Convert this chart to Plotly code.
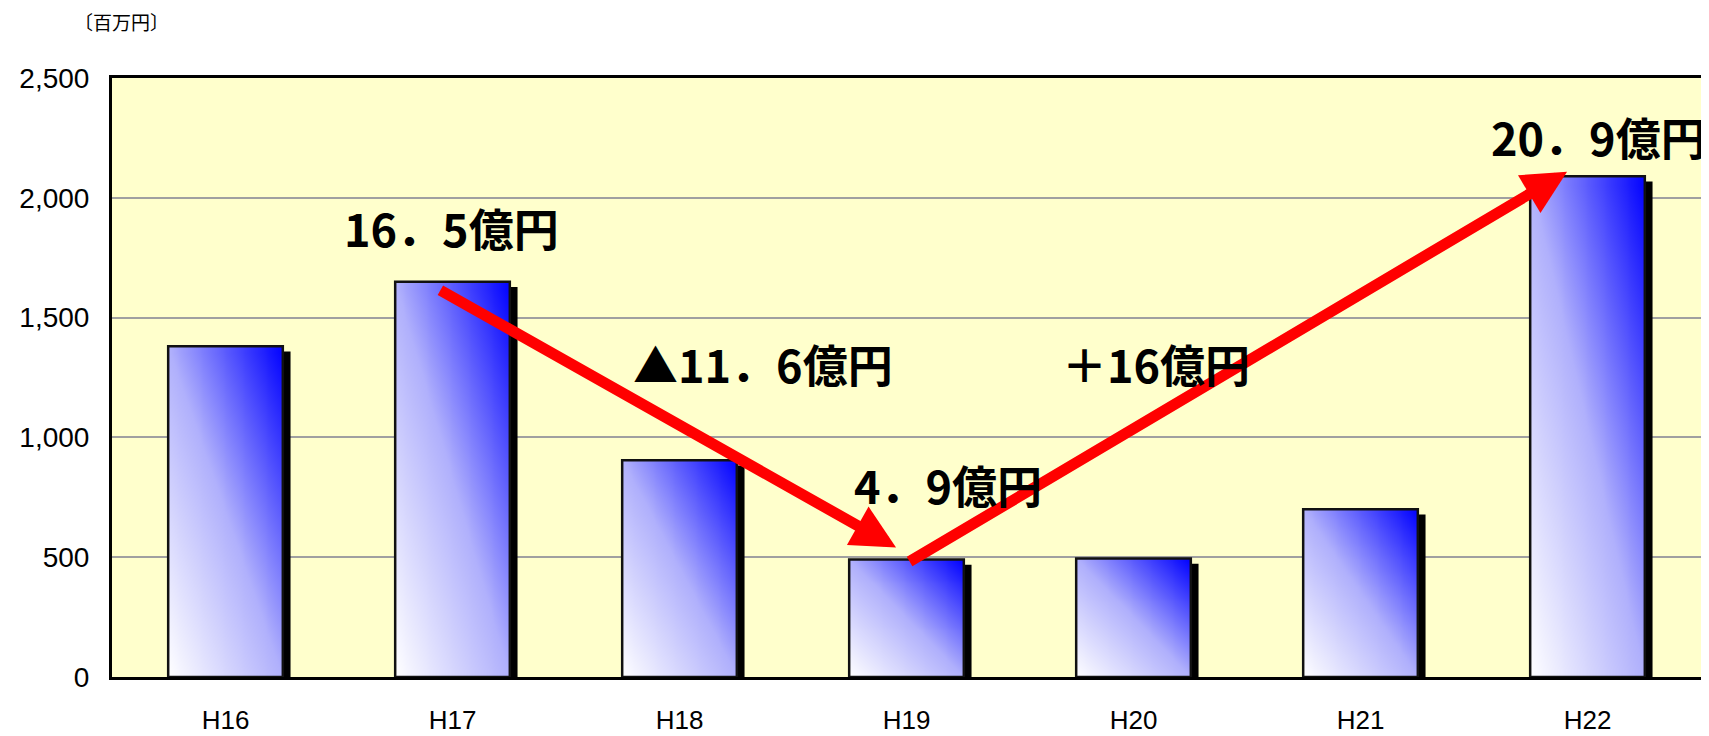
import numpy as np
import plotly.graph_objects as go

# ---- data ----
categories = ["H16", "H17", "H18", "H19", "H20", "H21", "H22"]
values = [1380, 1650, 905, 490, 495, 700, 2090]  # 百万円
y_ticks = [0, 500, 1000, 1500, 2000, 2500]
unit_label = "〔百万円〕"

callout_texts = ["16．5億円", "▲11．6億円", "4．9億円", "＋16億円", "20．9億円"]
callout_x = [0.996, 2.368, 3.182, 4.098, 6.047]
callout_y = [1876, 1310, 803, 1310, 2255]

arrow_tail_x = [0.94, 3.007]
arrow_tail_y = [1618, 478]
arrow_head_x = [2.954, 5.91]
arrow_head_y = [541, 2109]

# ---- style ----
BAR_W = 0.505
SHADOW_W = 0.034
SHADOW_DROP = 22
GRAD_SCALE = [[0, "#ffffff"], [0.5, "#b0b0fc"], [1, "#0000ff"]]
CJK = "Noto Sans CJK JP"

fig = go.Figure()
x_idx = list(range(len(categories)))

# gradient fill of each bar (diagonal: white bottom-left -> blue top-right)
nx, ny = 30, 30
for i, v in zip(x_idx, values):
    xe = np.linspace(i - BAR_W / 2, i + BAR_W / 2, nx + 1)
    ye = np.linspace(0, v, ny + 1)
    u = (np.arange(nx) + 0.5) / nx
    w = (np.arange(ny) + 0.5) / ny
    z = (u[None, :] + w[:, None]) / 2
    fig.add_trace(go.Heatmap(x=xe, y=ye, z=z, zmin=0, zmax=1, colorscale=GRAD_SCALE,
                             showscale=False, zsmooth="best", hoverinfo="skip"))

# drop shadow strip
fig.add_trace(go.Bar(x=x_idx, y=[v - SHADOW_DROP for v in values], width=SHADOW_W,
                     offset=BAR_W / 2, marker=dict(color="black", line=dict(width=0)),
                     hoverinfo="skip"))
# bar outline
fig.add_trace(go.Bar(x=x_idx, y=values, width=BAR_W,
                     marker=dict(color="rgba(0,0,0,0)", line=dict(color="#111111", width=2.5)),
                     hovertemplate="%{y}<extra></extra>"))

# arrows
for tx, ty, hx, hy in zip(arrow_tail_x, arrow_tail_y, arrow_head_x, arrow_head_y):
    fig.add_annotation(x=hx, y=hy, ax=tx, ay=ty, xref="x", yref="y", axref="x", ayref="y",
                       showarrow=True, arrowhead=2, arrowsize=0.8, arrowwidth=11,
                       arrowcolor="#ff0000", text="")

# callout texts
for t, cx, cy in zip(callout_texts, callout_x, callout_y):
    fig.add_annotation(x=cx, y=cy, xref="x", yref="y", text=t, showarrow=False,
                       xanchor="center", yanchor="middle",
                       font=dict(family=CJK, size=45, color="black", weight=700))

# unit label
fig.add_annotation(x=0.0057, y=1.0935, xref="paper", yref="paper", text=unit_label,
                   showarrow=False, xanchor="center", yanchor="middle",
                   font=dict(family=CJK, size=19, color="black"))

fig.update_layout(
    width=1709, height=736,
    margin=dict(l=104, r=16, t=70, b=67),
    paper_bgcolor="white", plot_bgcolor="#ffffcc",
    barmode="overlay", showlegend=False,
    font=dict(family="Liberation Sans", color="black"),
)
fig.update_xaxes(range=[-0.5, 6.5], tickvals=x_idx, ticktext=categories,
                 showgrid=False, zeroline=False, showline=True, linecolor="black",
                 linewidth=3, mirror=True, ticks="", ticklabelstandoff=18, automargin=False,
                 tickfont=dict(size=26, family="Liberation Sans", color="black"))
fig.update_yaxes(range=[0, 2500], tickvals=y_ticks, tickformat=",",
                 showgrid=True, gridcolor="#a0a0a0", gridwidth=2, zeroline=False,
                 showline=True, linecolor="black", linewidth=3, mirror=True,
                 ticks="", ticklabelstandoff=14, automargin=False,
                 tickfont=dict(size=28, family="Liberation Sans", color="black"))

fig.write_html("out.html")
